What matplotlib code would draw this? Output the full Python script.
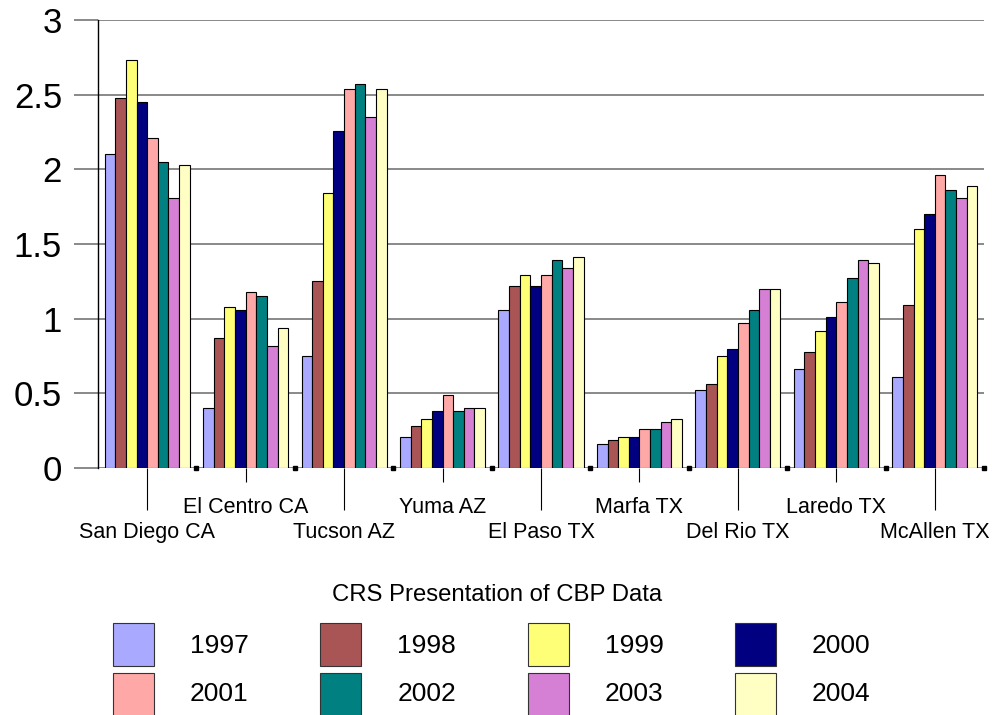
import matplotlib
matplotlib.use("Agg")
import matplotlib.pyplot as plt
from matplotlib.patches import Rectangle
import numpy as np

plt.rcParams['font.family'] = ['Liberation Sans', 'DejaVu Sans']

categories = ["San Diego CA", "El Centro CA", "Tucson AZ", "Yuma AZ", "El Paso TX",
              "Marfa TX", "Del Rio TX", "Laredo TX", "McAllen TX"]
years = ["1997", "1998", "1999", "2000", "2001", "2002", "2003", "2004"]
colors = ["#A9A9FF", "#AA5555", "#FFFF77", "#000080", "#FFA8A8", "#008080", "#D580D5", "#FFFFC4"]

v1997 = [2.10, 0.40, 0.75, 0.21, 1.06, 0.16, 0.52, 0.66, 0.61]
v1998 = [2.48, 0.87, 1.25, 0.28, 1.22, 0.19, 0.56, 0.78, 1.09]
v1999 = [2.73, 1.08, 1.84, 0.33, 1.29, 0.21, 0.75, 0.92, 1.60]
v2000 = [2.45, 1.06, 2.26, 0.38, 1.22, 0.21, 0.80, 1.01, 1.70]
v2001 = [2.21, 1.18, 2.54, 0.49, 1.29, 0.26, 0.97, 1.11, 1.96]
v2002 = [2.05, 1.15, 2.57, 0.38, 1.39, 0.26, 1.06, 1.27, 1.86]
v2003 = [1.81, 0.82, 2.35, 0.40, 1.34, 0.31, 1.20, 1.39, 1.81]
v2004 = [2.03, 0.94, 2.54, 0.40, 1.41, 0.33, 1.20, 1.37, 1.89]
series = [v1997, v1998, v1999, v2000, v2001, v2002, v2003, v2004]

W, H = 992, 715
fig = plt.figure(figsize=(W / 100, H / 100), dpi=100)
ax = fig.add_axes([98 / W, 1 - 468 / H, 886 / W, 448 / H])

x = np.arange(len(categories))
bw = 0.108
for j, (vals, col) in enumerate(zip(series, colors)):
    ax.bar(x + (j - 3.5) * bw, vals, width=bw, color=col, edgecolor='black',
           linewidth=0.8, zorder=2)

ax.set_xlim(-0.5, len(categories) - 0.5)
ax.set_ylim(0, 3)
yt = np.arange(0, 3.01, 0.5)
ax.set_yticks(yt, [f"{v:g}" for v in yt])
ax.set_axisbelow(True)
ax.yaxis.grid(True, color='#808080', linewidth=1.3)
ax.tick_params(axis='y', length=17.3, width=1.3, color='#808080', pad=8.6, labelsize=25)

for s in ['top', 'right', 'bottom']:
    ax.spines[s].set_visible(False)
ax.spines['left'].set_color('black')
ax.spines['left'].set_linewidth(1.0)

# staggered category labels: lower row as major ticks, upper row as minor ticks
ax.set_xticks(x[0::2], categories[0::2])
ax.set_xticks(x[1::2], categories[1::2], minor=True)
ax.tick_params(axis='x', which='major', length=30, width=0.8, color='black', pad=9.0, labelsize=15.5)
ax.tick_params(axis='x', which='minor', length=10, width=0.8, color='black', pad=11.0, labelsize=15.5)

# small black square markers at category boundaries
ax.plot(x + 0.5, np.zeros(len(x)), 's', color='black', markersize=3.2, clip_on=False, zorder=3)

# legend drawn manually
fig.text(497 / W, 1 - 601 / H, "CRS Presentation of CBP Data", ha='center', va='baseline', fontsize=17.2)
for j, (yr, col) in enumerate(zip(years, colors)):
    r, c = divmod(j, 4)
    x0 = 113 + c * 207.3
    ytop = 623 + r * 50
    fig.add_artist(Rectangle((x0 / W, 1 - (ytop + 43) / H), 41 / W, 43 / H,
                             transform=fig.transFigure, facecolor=col,
                             edgecolor='#333333', linewidth=0.8))
    fig.text((x0 + 77) / W, 1 - (653 + r * 48) / H, yr, ha='left', va='baseline', fontsize=19)

fig.savefig("out.png", dpi=100)
